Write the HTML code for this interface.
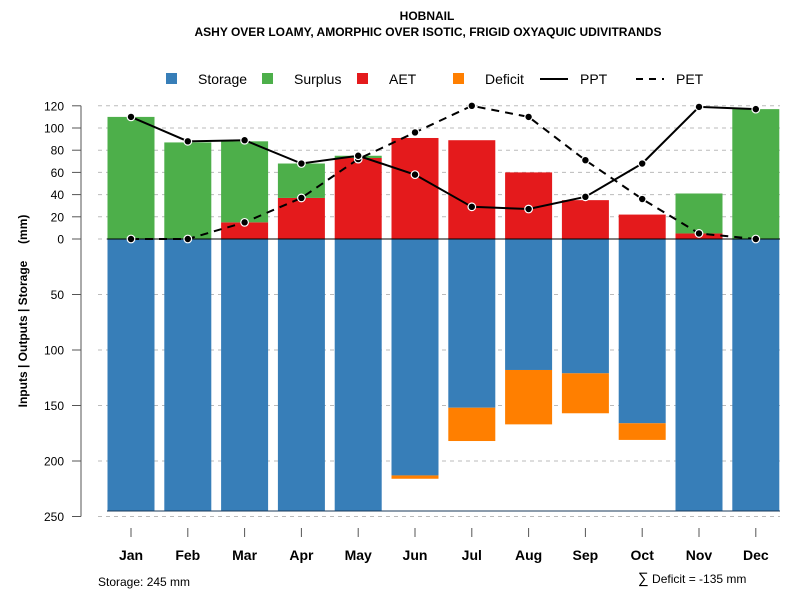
<!DOCTYPE html>
<html><head><meta charset="utf-8"><style>
body{margin:0;background:#fff}
svg text{font-family:"Liberation Sans",sans-serif}
</style></head><body>
<svg id="c" width="800" height="600" xmlns="http://www.w3.org/2000/svg">
<text x="427" y="20" text-anchor="middle" font-size="12" font-weight="bold">HOBNAIL</text>
<text x="428" y="36" text-anchor="middle" font-size="12" font-weight="bold">ASHY OVER LOAMY, AMORPHIC OVER ISOTIC, FRIGID OXYAQUIC UDIVITRANDS</text>
<g id="legend">
<g><rect x="166" y="73" width="11" height="11" fill="#377eb8"/><text x="198" y="84" font-size="14">Storage</text></g>
<g><rect x="262" y="73" width="11" height="11" fill="#4daf4a"/><text x="294" y="84" font-size="14">Surplus</text></g>
<g><rect x="357" y="73" width="11" height="11" fill="#e41a1c"/><text x="389" y="84" font-size="14">AET</text></g>
<g><rect x="453" y="73" width="11" height="11" fill="#ff7f00"/><text x="485" y="84" font-size="14">Deficit</text></g>
<g><line x1="540" y1="79" x2="568" y2="79" stroke="#000" stroke-width="2"/><text x="580" y="84" font-size="14">PPT</text></g>
<g><line x1="636" y1="79" x2="664" y2="79" stroke="#000" stroke-width="2" stroke-dasharray="7,6"/><text x="676" y="84" font-size="14">PET</text></g>
</g>
<text transform="translate(27,311) rotate(-90)" text-anchor="middle" font-size="12" font-weight="bold" xml:space="preserve">Inputs | Outputs | Storage     (mm)</text>
<g id="plot"></g>
<text x="98" y="586" font-size="12">Storage: 245 mm</text>
<text x="638" y="583" font-size="12"><tspan font-size="15">∑</tspan> Deficit = -135 mm</text>
</svg>
<script>
const months=["Jan","Feb","Mar","Apr","May","Jun","Jul","Aug","Sep","Oct","Nov","Dec"];
const aet=[0,0,15,37,73,91,89,60,35,22,5,0];
const surplus=[110,87,73,31,2,0,0,0,0,0,36,117];
const storage=[245,245,245,245,245,213,152,118,121,166,245,245];
const deficit=[0,0,0,0,0,3,30,49,36,15,0,0];
const ppt=[110,88,89,68,75,58,29,27,38,68,119,117];
const pet=[0,0,15,37,72,96,120,110,71,36,5,0];
const posTicks=[0,20,40,60,80,100,120];
const negTicks=[50,100,150,200,250];
const NS="http://www.w3.org/2000/svg";
const g=document.getElementById('plot');
const y0=239,k=1.11;
const Y=v=>y0-v*k;
const X=i=>131+i*56.8;
const bw=47;
function el(t,a){const e=document.createElementNS(NS,t);for(const q in a)e.setAttribute(q,a[q]);g.appendChild(e);return e;}
posTicks.concat(negTicks.map(v=>-v)).forEach(v=>{
 const l=el('line',{x1:98,x2:780,y1:Y(v),y2:Y(v),stroke:'#bbb','stroke-dasharray':'4,4'});
 
 
 const t=el('line',{x1:72,x2:81,y1:Y(v),y2:Y(v),stroke:'#555'});
 
 
 const tx=el('text',{x:64,y:Y(v)+4.5,'text-anchor':'end','font-size':12});
 tx.textContent=Math.abs(v);
 
 
});
const ax=el('line',{x1:81,x2:81,y1:Y(120),y2:Y(-250),stroke:'#555'});


months.forEach((m,i)=>{
 const x=X(i),x0=x-bw/2;
 const r1=el('rect',{x:x0,y:Y(0),width:bw,height:storage[i]*k,fill:'#377eb8'});
 
 
 if(deficit[i]>0){const r=el('rect',{x:x0,y:Y(-storage[i]),width:bw,height:deficit[i]*k,fill:'#ff7f00'});
 
 }
 if(aet[i]>0){const r=el('rect',{x:x0,y:Y(aet[i]),width:bw,height:aet[i]*k,fill:'#e41a1c'});
 
 }
 if(surplus[i]>0){const r=el('rect',{x:x0,y:Y(aet[i]+surplus[i]),width:bw,height:surplus[i]*k,fill:'#4daf4a'});
 
 }
 const t=el('line',{x1:x,x2:x,y1:528,y2:537,stroke:'#555'});
 
 
 const tx=el('text',{x:x,y:560,'text-anchor':'middle','font-size':14,'font-weight':'bold'});
 tx.textContent=m;
 
 
});
const zl=el('line',{x1:107,x2:780,y1:Y(0),y2:Y(0),stroke:'#000'});


const bl=el('line',{x1:107,x2:780,y1:Y(-245),y2:Y(-245),stroke:'#1a3a5a'});


function series(d,name,dash){
 const p=el('polyline',{points:d.map((v,i)=>X(i)+','+Y(v)).join(' '),fill:'none',stroke:'#000','stroke-width':2});
 if(dash)p.setAttribute('stroke-dasharray','8,6');
 
 
 d.forEach((v,i)=>{const c=el('circle',{cx:X(i),cy:Y(v),r:3.8,fill:'#000',stroke:'#fff','stroke-width':1.2});
 
 });
}
series(pet,'pet',true);
series(ppt,'ppt',false);
</script>
</body></html>
